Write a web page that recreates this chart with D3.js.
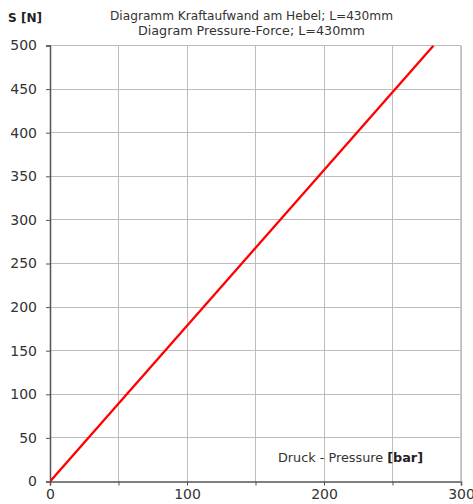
<!DOCTYPE html>
<html>
<head>
<meta charset="utf-8">
<script src="https://cdn.jsdelivr.net/npm/d3@7"></script>
<style>
  html, body { margin: 0; padding: 0; background: #fff; }
  svg { display: block; font-family: "DejaVu Sans", sans-serif; }
</style>
</head>
<body>
<svg id="chart" width="473" height="504"></svg>
<script>
// Force on the lever (L = 430 mm) as a function of pressure
const pressure = [0, 280];       // bar
const force = [0, 500];          // N
const xTicks = [0, 50, 100, 150, 200, 250, 300];
const xLabels = [0, 100, 200, 300];
const yTicks = [0, 50, 100, 150, 200, 250, 300, 350, 400, 450, 500];
const titleLines = ["Diagramm Kraftaufwand am Hebel; L=430mm", "Diagram Pressure-Force; L=430mm"];

const svg = d3.select("#chart");
const m = { left: 50, right: 12, top: 45.5, bottom: 22.5 };
const W = 473, H = 504;
const x = d3.scaleLinear().domain([0, 300]).range([m.left, W - m.right]);
const y = d3.scaleLinear().domain([0, 500]).range([H - m.bottom, m.top]);

const gridColor = "#bdbdbd";
const axisColor = "#555";
const textColor = "#333";

// grid
svg.append("g").selectAll("line").data(xTicks.filter(d => d > 0)).join("line")
  .attr("x1", d => x(d)).attr("x2", d => x(d))
  .attr("y1", y(0)).attr("y2", y(500))
  .attr("stroke", gridColor).attr("stroke-width", 1).attr("shape-rendering", "crispEdges");
svg.append("g").selectAll("line").data(yTicks.filter(d => d > 0)).join("line")
  .attr("x1", x(0)).attr("x2", x(300))
  .attr("y1", d => y(d)).attr("y2", d => y(d))
  .attr("stroke", gridColor).attr("stroke-width", 1).attr("shape-rendering", "crispEdges");

// y axis
const yAxis = svg.append("g").attr("transform", `translate(${x(0)},0)`)
  .call(d3.axisLeft(y).tickValues(yTicks).tickSize(4).tickPadding(9).tickFormat(d3.format("d")));
yAxis.select(".domain").attr("stroke", axisColor).attr("stroke-width", 1.5);
yAxis.selectAll(".tick line").attr("stroke", axisColor);
yAxis.selectAll(".tick text").attr("fill", textColor).attr("font-size", 14).attr("font-family", "DejaVu Sans, sans-serif");

// x axis
const xAxis = svg.append("g").attr("transform", `translate(0,${y(0)})`)
  .call(d3.axisBottom(x).tickValues(xTicks).tickSize(4).tickPadding(4)
    .tickFormat(d => xLabels.includes(d) ? d : ""));
xAxis.select(".domain").attr("stroke", axisColor).attr("stroke-width", 1.5);
xAxis.selectAll(".tick line").attr("stroke", axisColor);
xAxis.selectAll(".tick text").attr("fill", textColor).attr("font-size", 14).attr("font-family", "DejaVu Sans, sans-serif");

// right border
svg.append("line").attr("x1", x(300)).attr("x2", x(300)).attr("y1", y(0)).attr("y2", y(500))
  .attr("stroke", gridColor).attr("stroke-width", 1.5);

// data line
svg.append("clipPath").attr("id", "plotClip").append("rect")
  .attr("x", x(0)).attr("y", y(500)).attr("width", x(300) - x(0)).attr("height", y(0) - y(500));
const pts = pressure.map((p, i) => [p, force[i]]);
svg.append("path").datum(pts)
  .attr("clip-path", "url(#plotClip)")
  .attr("d", d3.line().x(d => x(d[0])).y(d => y(d[1])))
  .attr("fill", "none").attr("stroke", "#ff0000").attr("stroke-width", 2.3);

// titles (wide lettering)
const titleWidths = [283, 227];
svg.append("g").selectAll("text").data(titleLines).join("text")
  .attr("x", 251.5).attr("y", (d, i) => 19.5 + i * 15)
  .attr("text-anchor", "middle").attr("font-size", 12).attr("fill", textColor)
  .attr("textLength", (d, i) => titleWidths[i]).attr("lengthAdjust", "spacingAndGlyphs")
  .text(d => d);

// y axis title
svg.append("text").attr("x", 8).attr("y", 22)
  .attr("font-size", 12).attr("font-weight", "bold").attr("fill", "#222")
  .attr("textLength", 34).attr("lengthAdjust", "spacingAndGlyphs").text("S [N]");

// x axis title
const xt = svg.append("text").attr("x", 278).attr("y", 462)
  .attr("font-size", 12).attr("fill", textColor)
  .attr("textLength", 145).attr("lengthAdjust", "spacingAndGlyphs");
xt.append("tspan").text("Druck - Pressure ");
xt.append("tspan").attr("font-weight", "bold").attr("fill", "#222").text("[bar]");
</script>
</body>
</html>
